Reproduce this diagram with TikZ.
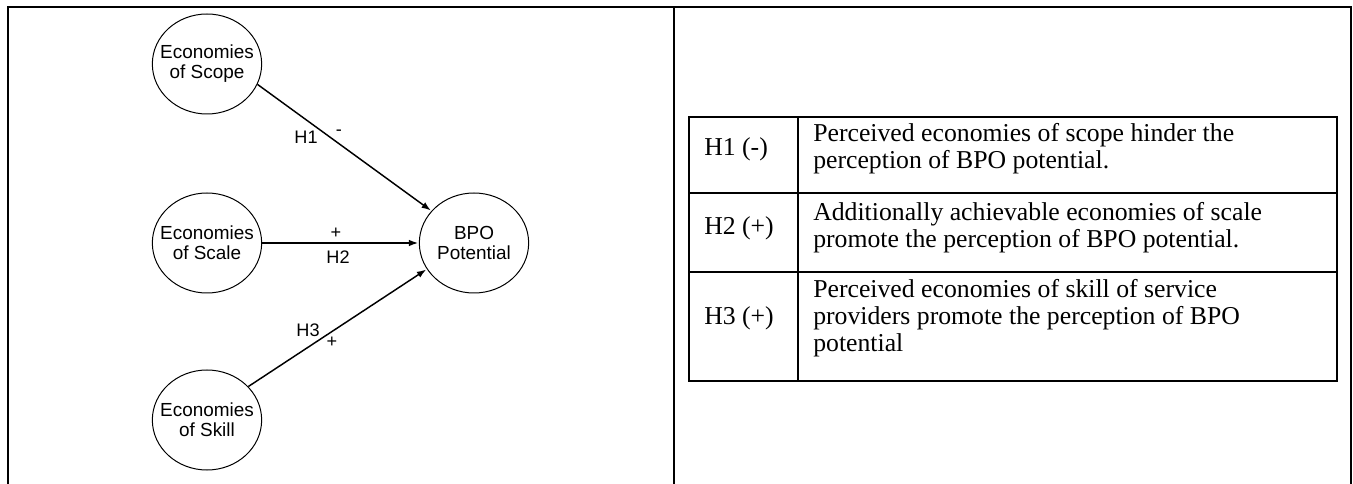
\documentclass[tikz,border=0pt]{standalone}
\usepackage{fontspec}
\setmainfont{Liberation Serif}
\newfontfamily\arialf{Liberation Sans}
\usetikzlibrary{shapes.geometric,arrows.meta}
\tikzset{
  x=0.75pt, y=-0.75pt,
  frameline/.style={line width=1.7pt},
  tabline/.style={line width=1.5pt},
  construct/.style={draw, line width=0.75pt, ellipse, minimum width=82pt, minimum height=75pt, inner xsep=-9pt, inner ysep=0pt, align=center, font=\arialf\fontsize{14.2}{15}\selectfont},
  hyparrow/.style={line width=1.1pt, -{Latex[length=7pt,width=5pt]}, shorten >=0.5pt},
  hlabel/.style={anchor=base, inner sep=0pt, font=\arialf\fontsize{13.6}{14}\selectfont},
  celltext/.style={anchor=base west, inner sep=0pt, font=\fontsize{19.3}{21}\selectfont},
}
\begin{document}
\begin{tikzpicture}
\useasboundingbox (0,0) rectangle (1353,484);
% outer frame (open at the bottom) and divider
\draw[frameline] (7.8,484) -- (7.8,6.8) -- (1351.3,6.8) -- (1351.3,484);
\draw[frameline] (674,6.8) -- (674,484);

% constructs
\node[construct] (scope) at (207,64) {Economies\\of Scope};
\node[construct] (scale) at (207,243) {Economies\\of Scale};
\node[construct] (skill) at (207,420) {Economies\\of Skill};
\node[construct] (bpo) at (474,243) {BPO\\Potential};

% hypotheses
\draw[hyparrow] (scope.-22) -- (bpo.143);
\draw[hyparrow] (scale.east) -- (bpo.west);
\draw[hyparrow] (skill.39) -- (bpo.209);

\node[hlabel] (h1) at (306,143.5) {H1};
\node[hlabel] (h1s) at (339,136) {-};
\node[hlabel] (h2s) at (336,239) {+};
\node[hlabel] (h2) at (338,263.5) {H2};
\node[hlabel] (h3) at (308,336.5) {H3};
\node[hlabel] (h3s) at (332,348) {+};

% table
\draw[tabline] (688.5,117) rectangle (1337,381);
\draw[tabline] (688.5,193) -- (1337,193);
\draw[tabline] (688.5,272) -- (1337,272);
\draw[tabline] (798,117) -- (798,381);

\node[celltext] (k1) at (704,155.5) {H1 (-)};
\node[celltext] (k2) at (704,234.5) {H2 (+)};
\node[celltext] (k3) at (704,325) {H3 (+)};

\node[celltext] (t1a) at (813,142) {Perceived economies of scope hinder the};
\node[celltext] (t1b) at (813,169) {perception of BPO potential.};
\node[celltext] (t2a) at (813,221) {Additionally achievable economies of scale};
\node[celltext] (t2b) at (813,248) {promote the perception of BPO potential.};
\node[celltext] (t3a) at (813,298) {Perceived economies of skill of service};
\node[celltext] (t3b) at (813,325) {providers promote the perception of BPO};
\node[celltext] (t3c) at (813,352) {potential};
\end{tikzpicture}
\end{document}
